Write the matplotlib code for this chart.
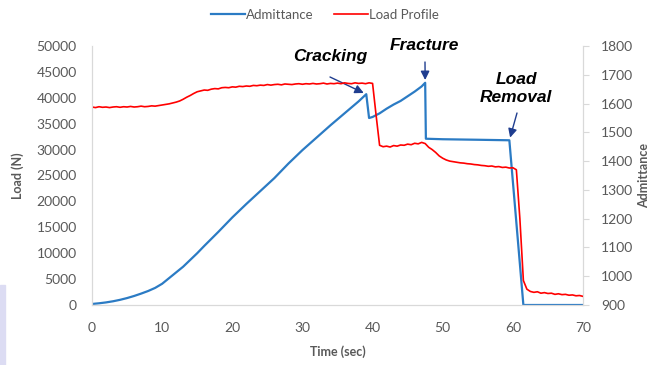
import numpy as np
import matplotlib
matplotlib.use('Agg')
import matplotlib.pyplot as plt
from matplotlib.patches import Rectangle

plt.rcParams['font.family'] = ['Lato', 'DejaVu Sans']

# blue curve (left axis, Load N)
t_load = [0, 1, 2, 3, 4, 5, 6, 7, 8, 9, 10, 11, 12, 13, 14, 15, 16, 18, 20, 22, 24, 26,
          28, 30, 32, 34, 36, 38, 39.1, 39.5, 40, 41, 42, 43, 44, 45, 46, 47, 47.5, 47.6,
          50, 55, 59.5, 61.5, 70]
load = [200, 330, 500, 720, 1000, 1340, 1740, 2200, 2700, 3300, 4100, 5200, 6300, 7400,
        8700, 10000, 11400, 14100, 16900, 19500, 22000, 24500, 27300, 29900, 32300, 34700,
        37000, 39300, 40700, 36100, 36300, 37000, 37900, 38700, 39400, 40300, 41200, 42200,
        42900, 32100, 32000, 31900, 31800, 0, 0]

# red curve (right axis, admittance), sampled every 0.5 s
t_adm = np.arange(0, 70.01, 0.5)
adm = [1588, 1586, 1589, 1587, 1588, 1586, 1588, 1589, 1587, 1589, 1588, 1590, 1588, 1589,
       1591, 1589, 1590, 1592, 1591,
       1593, 1595, 1597, 1599, 1602, 1605, 1609, 1615, 1622, 1628, 1635, 1641, 1644, 1647,
       1646, 1650, 1652, 1651, 1655, 1656, 1655, 1658,
       1657, 1660, 1659, 1661, 1660, 1663, 1662, 1664, 1663, 1666, 1664, 1666, 1667, 1665,
       1668, 1667, 1666, 1668, 1669, 1667, 1669, 1668, 1670, 1668, 1669, 1671, 1668, 1670,
       1669, 1671, 1669, 1672, 1670, 1669, 1672, 1670, 1671, 1669, 1672, 1670,
       1560, 1455, 1450, 1452, 1449, 1454, 1452, 1456, 1455, 1459, 1457, 1462, 1460, 1465,
       1461,
       1448, 1440, 1430, 1418, 1410, 1404, 1400, 1398, 1396, 1394, 1393, 1391, 1390, 1388,
       1387, 1385, 1384, 1382, 1383, 1380, 1381, 1378, 1379, 1376, 1377, 1370,
       1200, 985, 955, 947, 944, 946, 941, 943, 940, 941, 937, 939, 936, 937, 934, 935, 932,
       933, 930]

x_ticks = np.arange(0, 71, 10)
load_ticks = np.arange(0, 50001, 5000)
adm_ticks = np.arange(900, 1801, 100)

blue = '#2b7bc4'
red = '#ff0000'
navy = '#1f3d8f'
grey = '#595959'
spine_c = '#d9d9d9'

fig = plt.figure(figsize=(6.5, 3.65), dpi=100)
ax = fig.add_axes([92/650, 1-305/365, (583-92)/650, (305-46)/365])
ax2 = ax.twinx()

l1, = ax.plot(t_load, load, color=blue, lw=1.6, label='Admittance')
l2, = ax2.plot(t_adm, adm, color=red, lw=1.2, label='Load Profile')

ax.set_xlim(0, 70)
ax.set_ylim(0, 50000)
ax2.set_ylim(900, 1800)
ax.set_xticks(x_ticks)
ax.set_yticks(load_ticks)
ax2.set_yticks(adm_ticks)

for a in (ax, ax2):
    for s in a.spines.values():
        s.set_color(spine_c)
    a.spines['top'].set_visible(False)
ax.tick_params(axis='x', length=0, pad=12, labelsize=10, labelcolor=grey)
ax.tick_params(axis='y', length=0, pad=11, labelsize=10, labelcolor=grey)
ax2.tick_params(axis='y', length=4, color=spine_c, pad=9, labelsize=10, labelcolor=grey)

ax.set_xlabel('Time (sec)', fontsize=9, fontweight='bold', color=grey)
ax.set_ylabel('Load (N)', fontsize=9, fontweight='bold', color=grey)
ax2.set_ylabel('Admittance', fontsize=9, fontweight='bold', color=grey)
ax.xaxis.set_label_coords(0.5, -0.155)
ax.yaxis.set_label_coords(-0.138, 0.5)
ax2.yaxis.set_label_coords(1.112, 0.5)

fig.legend([l1, l2], ['Admittance', 'Load Profile'], loc='center', ncol=2,
           bbox_to_anchor=(325/650, 1-15/365), frameon=False, fontsize=9.5,
           handlelength=2.6, handletextpad=0.1, columnspacing=1.5,
           labelcolor=grey)

# annotations
afont = dict(family=['Liberation Sans', 'DejaVu Sans'], fontsize=12.5,
             fontweight='bold', style='italic', color='black', ha='center', va='center')
arr = dict(arrowstyle='-|>', color=navy, lw=1.0, mutation_scale=13, shrinkA=0, shrinkB=2)

fig.text(330/650, 1-57/365, 'Cracking', **afont)
ax.annotate('', xy=(t_load[28], load[28]), xytext=(330, 365-77),
            textcoords='figure pixels', arrowprops=arr)
fig.text(424/650, 1-46/365, 'Fracture', **afont)
ax.annotate('', xy=(t_load[38], load[38]), xytext=(425, 365-62),
            textcoords='figure pixels', arrowprops=arr)
fig.text(516/650, 1-88/365, 'Load\nRemoval', linespacing=1.25, **afont)
ax.annotate('', xy=(t_load[42], load[42]), xytext=(517, 365-113),
            textcoords='figure pixels', arrowprops=arr)

fig.patches.append(Rectangle((0, 0), 5/650, 80/365, transform=fig.transFigure,
                             color='#dcdcf3', zorder=0))

fig.savefig('out.png', dpi=100)
